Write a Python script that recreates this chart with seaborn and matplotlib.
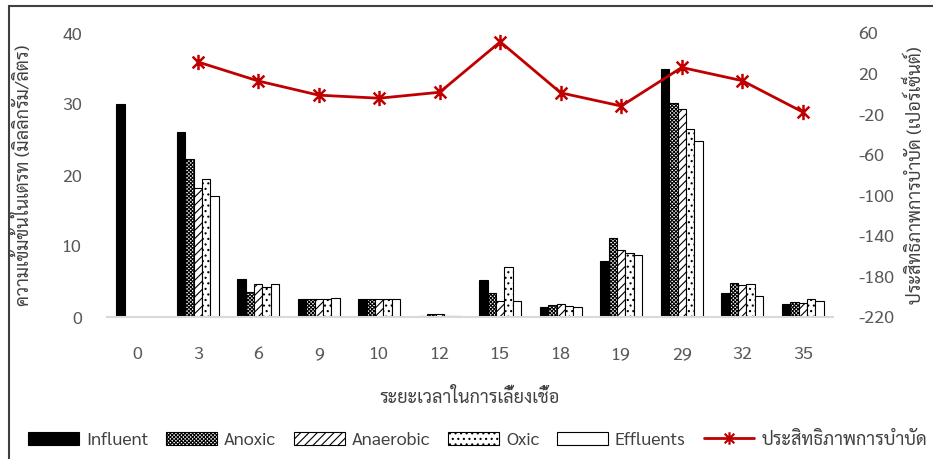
import numpy as np
import pandas as pd
import matplotlib
matplotlib.use('Agg')
import matplotlib.pyplot as plt
import seaborn as sns
from matplotlib.patches import Patch, Rectangle
from matplotlib.lines import Line2D
from matplotlib.path import Path

# data
days = ['0', '3', '6', '9', '10', '12', '15', '18', '19', '29', '32', '35']
series = ['Influent', 'Anoxic', 'Anaerobic', 'Oxic', 'Effluents']
influent = [30.0, 26.1, 5.4, 2.6, 2.5, 0.1, 5.2, 1.4, 7.9, 34.9, 3.4, 1.8]
anoxic = [0, 22.2, 3.5, 2.6, 2.6, 0.4, 3.4, 1.7, 11.1, 30.1, 4.8, 2.1]
anaerobic = [0, 18.2, 4.6, 2.6, 2.6, 0.4, 2.2, 1.8, 9.4, 29.3, 4.5, 2.0]
oxic = [0, 19.4, 4.2, 2.6, 2.5, 0.2, 7.0, 1.55, 9.0, 26.5, 4.65, 2.5]
effluents = [0, 17.0, 4.6, 2.7, 2.5, 0.15, 2.3, 1.4, 8.7, 24.8, 3.0, 2.3]
efficiency = [np.nan, 31.5, 12.7, -1.3, -4.3, 1.6, 51.3, 1.0, -12.0, 26.0, 13.0, -17.9]

df = pd.DataFrame({'day': days, 'Influent': influent, 'Anoxic': anoxic,
                   'Anaerobic': anaerobic, 'Oxic': oxic, 'Effluents': effluents})
long = df.melt(id_vars='day', var_name='series', value_name='value')

sns.set_style('white')
plt.rcParams['font.family'] = ['Sarabun', 'DejaVu Sans']
plt.rcParams['hatch.linewidth'] = 0.8
plt.rcParams['axes.unicode_minus'] = False
txt = '#404040'
red = '#C00000'
fs = 13

fig = plt.figure(figsize=(9.33, 4.59), dpi=100)
ax = fig.add_axes([107 / 933, 1 - 317 / 459, 726 / 933, 284 / 459])

colors = ['black', 'white', 'white', 'white', 'white']
hatches = ['', 'xxxxxxxxx', '////', '...', '']
sns.barplot(data=long, x='day', y='value', hue='series', order=days, hue_order=series,
            palette=colors, saturation=1, width=0.7, edgecolor='black', linewidth=0.8,
            legend=False, ax=ax)
for cont, h in zip(ax.containers, hatches):
    for bar in cont:
        bar.set_hatch(h)

ax.set_ylim(0, 40)
ax.set_yticks(range(0, 41, 10))

# asterisk marker like the spreadsheet one
star = Path([(-1, -1), (1, 1), (-1, 1), (1, -1), (0, -1.3), (0, 1.3)],
            [Path.MOVETO, Path.LINETO, Path.MOVETO, Path.LINETO, Path.MOVETO, Path.LINETO])

ax2 = ax.twinx()
sns.lineplot(x=np.arange(len(days)), y=efficiency, ax=ax2, color=red, linewidth=2,
             marker=star, markersize=11, markeredgewidth=1.8, markeredgecolor=red,
             markerfacecolor='none')
ax2.set_ylim(-220, 60)
ax2.set_yticks(range(-220, 61, 40))
ax.set_xlim(-0.5, 11.5)

for a in (ax, ax2):
    for s in a.spines.values():
        s.set_visible(False)
    a.tick_params(length=0, labelsize=fs, labelcolor='#595959')
ax.spines['bottom'].set_visible(True)
ax.spines['bottom'].set_color('#D9D9D9')
ax.spines['bottom'].set_linewidth(1.5)
ax.tick_params(axis='y', pad=18)
ax.tick_params(axis='x', pad=21)
ax2.tick_params(axis='y', pad=18)

ax.set_xlabel('ระยะเวลาในการเลี้ยงเชื้อ', fontsize=fs, color=txt)
ax.xaxis.set_label_coords(0.5, -0.25)
ax.set_ylabel('ความเข้มข้นในเตรท (มิลลิกรัม/ลิตร)', fontsize=fs, color=txt, va='center')
ax.yaxis.set_label_coords(-0.116, 0.5)
ax2.set_ylabel('ประสิทธิภาพการบำบัด (เปอร์เซ็นต์)', fontsize=fs, color=txt, va='center',
               rotation=90)
ax2.yaxis.set_label_coords(1.113, 0.5)

handles = [Patch(facecolor=c, edgecolor='black', hatch=h, linewidth=0.8)
           for c, h in zip(colors, hatches)]
handles.append(Line2D([], [], color=red, lw=2, marker=star, markersize=9,
                      markeredgewidth=1.6, markeredgecolor=red, markerfacecolor='none'))
labels = series + ['ประสิทธิภาพการบำบัด']
leg = fig.legend(handles, labels, loc='center', bbox_to_anchor=(0.512, 0.041), ncol=6,
                 frameon=False, fontsize=fs, handlelength=2.8, handleheight=0.72,
                 handletextpad=0.4, columnspacing=1.0)
for t in leg.get_texts():
    t.set_color(txt)

fig.patches.append(Rectangle((9 / 933, -0.05), 1.1, 1 - 6 / 459 + 0.05,
                             transform=fig.transFigure, fill=False,
                             edgecolor='#404040', linewidth=1.5))

fig.savefig('out.png', dpi=100)
